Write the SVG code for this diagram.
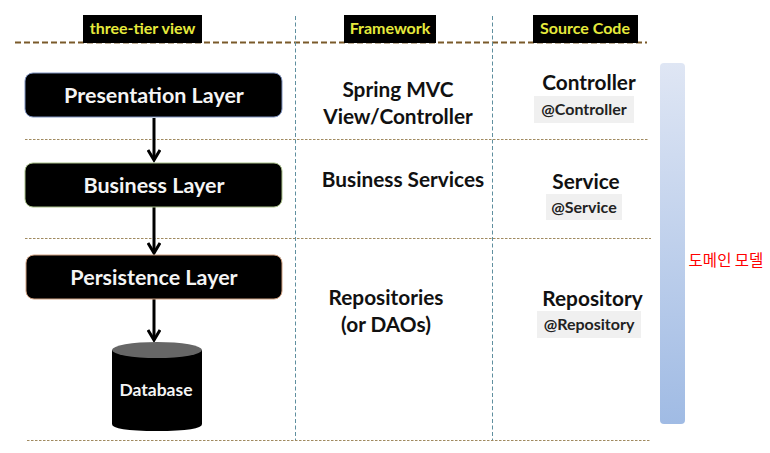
<svg xmlns="http://www.w3.org/2000/svg" width="770" height="453" viewBox="0 0 770 453">
<style>
text{font-family:"Lato","Open Sans","Liberation Sans",sans-serif;font-weight:700;text-anchor:middle}
.box{fill:#000;stroke-width:1}
.w{fill:#f4f4f4;font-size:21.500px}
.t{fill:#111;font-size:20.800px}
.h{fill:#e6ea3c;font-size:16px}
.tag{fill:#f0f0f0}
.s{fill:#222;font-size:16px}
.major{stroke:#7a5a2a;stroke-width:1.800;stroke-dasharray:6 3;fill:none}
.minor{stroke:#a08a60;stroke-width:1;stroke-dasharray:2.500 1.500;fill:none}
.v{stroke:#5f8f9f;stroke-width:1;stroke-dasharray:4 2.500;fill:none}
.ar{stroke:#000;stroke-width:3;fill:none}
</style>
<defs>
<linearGradient id="bar" x1="0" y1="0" x2="0" y2="1"><stop offset="0" stop-color="#dfe6f4"/><stop offset="1" stop-color="#a0bbe4"/></linearGradient>
<marker id="head" markerWidth="16" markerHeight="14" refX="12" refY="7" orient="auto" markerUnits="userSpaceOnUse"><path d="M2 1 L12 7 L2 13" fill="none" stroke="#000" stroke-width="3"/></marker>
</defs>
<rect width="770" height="453" fill="#fff"/>
<g id="grid">
<path class="major" d="M15 42.500H647"/>
<path class="minor" d="M25 139.500H649M25 238.500H651M27 440.500H651"/>
<path class="v" d="M295.500 16V440M492.500 16V440"/>
</g>
<g id="header-three-tier"><rect x="83" y="15" width="119" height="28" fill="#000"/><text class="h" x="142.500" y="34">three-tier view</text></g>
<g id="header-framework"><rect x="344" y="15" width="92" height="28" fill="#000"/><text class="h" x="390" y="34">Framework</text></g>
<g id="header-source"><rect x="533" y="15" width="105" height="28" fill="#000"/><text class="h" x="585" y="34">Source Code</text></g>
<g id="connectors">
<path class="ar" marker-end="url(#head)" d="M154 118V160"/>
<path class="ar" marker-end="url(#head)" d="M154 207V253"/>
<path class="ar" marker-end="url(#head)" d="M154 299V340"/>
</g>
<g id="presentation"><rect class="box" stroke="#7f93c0" x="25" y="73" width="257" height="44" rx="8"/><text class="w" x="154" y="103">Presentation Layer</text></g>
<g id="business"><rect class="box" stroke="#a9c08a" x="25" y="163" width="257" height="44" rx="8"/><text class="w" x="154" y="193">Business Layer</text></g>
<g id="persistence"><rect class="box" stroke="#d0a080" x="26" y="255" width="256" height="44" rx="8"/><text class="w" x="154" y="285">Persistence Layer</text></g>
<g id="database">
<path d="M112 350V424Q112 431 157 431Q202 431 202 424V350Z" fill="#000"/>
<ellipse cx="157" cy="350" rx="45" ry="8" fill="#666"/>
<text x="156" y="396" fill="#f4f4f4" font-size="17.500">Database</text>
</g>
<g id="fw-mvc"><text class="t" x="398" y="97">Spring MVC</text><text class="t" x="398" y="124">View/Controller</text></g>
<g id="fw-services"><text class="t" x="403" y="187">Business Services</text></g>
<g id="fw-repos"><text class="t" x="386" y="305">Repositories</text><text class="t" x="386" y="332">(or DAOs)</text></g>
<g id="src-controller"><text class="t" x="589" y="90">Controller</text><rect class="tag" x="534" y="96" width="100" height="27"/><text class="s" x="584" y="115">@Controller</text></g>
<g id="src-service"><text class="t" x="586" y="189">Service</text><rect class="tag" x="546" y="194" width="76" height="26"/><text class="s" x="584" y="213">@Service</text></g>
<g id="src-repository"><text class="t" x="592.500" y="306">Repository</text><rect class="tag" x="537" y="311" width="104" height="27"/><text class="s" x="589" y="330">@Repository</text></g>
<g id="domain-model">
<rect x="660" y="63" width="25" height="361" rx="4" fill="url(#bar)"/>
<text x="726" y="266" fill="#f00" style="font-family:'Noto Sans CJK KR','Noto Sans',sans-serif;font-weight:400" font-size="15.500">도메인 모델</text>
</g>
</svg>
